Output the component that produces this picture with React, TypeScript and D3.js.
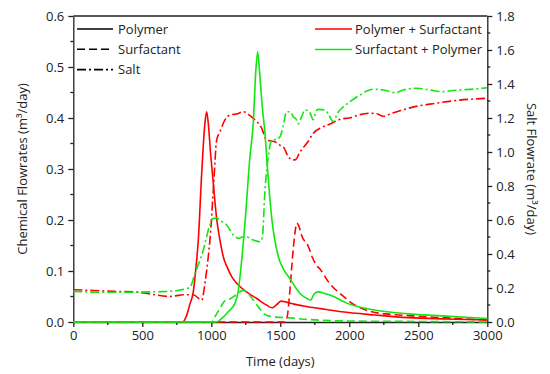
import { useEffect, useRef } from "react";
import * as d3 from "d3";

type Pt = [number, number];

// tick labels
const xTicks = [0, 500, 1000, 1500, 2000, 2500, 3000];
const leftTicks = [0, 0.1, 0.2, 0.3, 0.4, 0.5, 0.6];
const rightTicks = [0, 0.2, 0.4, 0.6, 0.8, 1.0, 1.2, 1.4, 1.6, 1.8];

// Polymer + Surfactant case (red)
const psPolymer: Pt[] = [
  [0, 0], [793, 0], [820, 0.012], [845, 0.035], [870, 0.06], [890, 0.11], [906, 0.161],
  [930, 0.29], [954, 0.39], [966, 0.412], [978, 0.39], [995, 0.33], [1015, 0.27],
  [1040, 0.2], [1063, 0.16], [1090, 0.125], [1111, 0.11], [1150, 0.088], [1184, 0.076],
  [1260, 0.058], [1329, 0.046], [1401, 0.033], [1440, 0.028], [1470, 0.033], [1505, 0.041],
  [1545, 0.039], [1600, 0.035], [1700, 0.03], [1820, 0.025], [1945, 0.02], [2186, 0.0137],
  [2425, 0.0085], [2700, 0.006], [3000, 0.004],
];
const psSurfactant: Pt[] = [
  [0, 0], [1535, 0], [1550, 0.01], [1566, 0.05], [1582, 0.105], [1600, 0.16], [1620, 0.194],
  [1635, 0.188], [1654, 0.17], [1703, 0.148], [1735, 0.125], [1760, 0.112], [1790, 0.103],
  [1848, 0.079], [1945, 0.053], [2041, 0.033], [2162, 0.02], [2300, 0.015], [2450, 0.012],
  [2700, 0.008], [3000, 0.004],
];
const psSalt: Pt[] = [
  [0, 0.19], [150, 0.185], [300, 0.18], [435, 0.178], [555, 0.165], [700, 0.15], [800, 0.16],
  [870, 0.16], [930, 0.128], [954, 0.227], [978, 0.384], [990, 0.48], [1015, 0.78],
  [1039, 1.07], [1063, 1.12], [1100, 1.19], [1135, 1.218], [1184, 1.224], [1232, 1.237],
  [1270, 1.22], [1304, 1.198], [1365, 1.14], [1401, 1.07], [1461, 1.06], [1498, 1.04],
  [1522, 1.03], [1558, 0.972], [1590, 0.953], [1610, 0.955], [1643, 1.0], [1700, 1.06],
  [1739, 1.11], [1800, 1.145], [1860, 1.165], [1945, 1.195], [2000, 1.2], [2077, 1.22],
  [2150, 1.228], [2200, 1.225], [2246, 1.21], [2300, 1.225], [2367, 1.243], [2476, 1.267],
  [2570, 1.28], [2670, 1.292], [2800, 1.305], [3000, 1.316],
];

// Surfactant + Polymer case (green)
const spPolymer: Pt[] = [
  [0, 0], [1035, 0], [1080, 0.008], [1123, 0.02], [1172, 0.037], [1195, 0.06], [1208, 0.089],
  [1244, 0.194], [1280, 0.324], [1304, 0.39], [1322, 0.49], [1336, 0.53], [1350, 0.49],
  [1370, 0.42], [1389, 0.37], [1401, 0.324], [1437, 0.206], [1486, 0.128], [1520, 0.105],
  [1570, 0.085], [1643, 0.056], [1700, 0.045], [1720, 0.043], [1745, 0.055], [1775, 0.059],
  [1820, 0.056], [1860, 0.053], [1981, 0.037], [2150, 0.025], [2343, 0.018], [2427, 0.016],
  [2669, 0.012], [3000, 0.007],
];
const spSurfactant: Pt[] = [
  [0, 0], [1000, 0], [1030, 0.012], [1063, 0.027], [1100, 0.042], [1135, 0.045], [1184, 0.054],
  [1230, 0.062], [1250, 0.06], [1280, 0.052], [1304, 0.043], [1340, 0.03], [1377, 0.017],
  [1449, 0.01], [1570, 0.008], [1700, 0.005], [2000, 0.002], [2500, 0.001], [3000, 0],
];
const spSalt: Pt[] = [
  [0, 0.18], [200, 0.175], [400, 0.175], [600, 0.178], [700, 0.18], [773, 0.188], [845, 0.205],
  [882, 0.286], [942, 0.424], [990, 0.571], [1015, 0.61], [1039, 0.61], [1070, 0.595],
  [1111, 0.571], [1160, 0.512], [1196, 0.492], [1225, 0.5], [1256, 0.502], [1280, 0.49],
  [1304, 0.482], [1353, 0.472], [1370, 0.5], [1389, 0.776], [1413, 0.972], [1437, 1.07],
  [1470, 1.075], [1498, 1.09], [1520, 1.15], [1546, 1.237], [1570, 1.237], [1594, 1.208],
  [1619, 1.188], [1631, 1.165], [1655, 1.21], [1679, 1.247], [1710, 1.237], [1739, 1.19],
  [1760, 1.24], [1775, 1.251], [1824, 1.247], [1850, 1.22], [1884, 1.178], [1915, 1.23],
  [1945, 1.257], [2005, 1.296], [2077, 1.335], [2130, 1.36], [2174, 1.369], [2250, 1.365],
  [2331, 1.349], [2391, 1.365], [2488, 1.375], [2550, 1.37], [2609, 1.361], [2681, 1.355],
  [2750, 1.362], [2802, 1.365], [2900, 1.37], [3000, 1.378],
];

const RED = "#ff0000";
const GREEN = "#11e611";
const DASH = "8,4";
const DASHDOT = "9,3,2,3";
const FONT = "'Open Sans', sans-serif";
const FS = "13px";

export default function App() {
  const ref = useRef<SVGSVGElement>(null);

  useEffect(() => {
    const width = 550;
    const height = 374;
    const margin = { top: 16, right: 62.7, bottom: 52, left: 73.3 };

    const svg = d3.select(ref.current);
    svg.selectAll("*").remove();
    svg.attr("width", width).attr("height", height);

    const x = d3.scaleLinear().domain([0, 3000]).range([margin.left, width - margin.right]);
    const yL = d3.scaleLinear().domain([0, 0.6]).range([height - margin.bottom, margin.top]);
    const yR = d3.scaleLinear().domain([0, 1.8]).range([height - margin.bottom, margin.top]);

    const axisColor = "#222";

    // frame top line
    svg.append("line")
      .attr("x1", x(0)).attr("x2", x(3000))
      .attr("y1", yL(0.6)).attr("y2", yL(0.6))
      .attr("stroke", axisColor).attr("stroke-width", 1.3);

    const styleAxis = (g: any) => {
      g.select(".domain").attr("stroke", axisColor).attr("stroke-width", 1.3);
      g.selectAll(".tick line").attr("stroke", axisColor).attr("stroke-width", 1.3);
      g.selectAll("text").attr("fill", "#222").style("font-family", FONT).style("font-size", FS);
    };

    // minor ticks
    const minor = (g: any, vals: number[], fn: (v: number) => [number, number, number, number]) => {
      g.selectAll(null).data(vals).join("line")
        .attr("x1", (d: number) => fn(d)[0]).attr("y1", (d: number) => fn(d)[1])
        .attr("x2", (d: number) => fn(d)[2]).attr("y2", (d: number) => fn(d)[3])
        .attr("stroke", axisColor).attr("stroke-width", 1.3);
    };
    const minorG = svg.append("g");
    minor(minorG, d3.range(250, 3000, 500), v => [x(v), yL(0), x(v), yL(0) + 3]);
    minor(minorG, d3.range(0.05, 0.6, 0.1), v => [x(0), yL(v), x(0) - 3, yL(v)]);
    minor(minorG, d3.range(0.1, 1.8, 0.2), v => [x(3000), yR(v), x(3000) + 3, yR(v)]);

    svg.append("g")
      .attr("transform", `translate(0,${height - margin.bottom})`)
      .call(d3.axisBottom(x).tickValues(xTicks).tickFormat(d3.format("d")).tickSize(5).tickPadding(4).tickSizeOuter(0))
      .call(styleAxis);

    svg.append("g")
      .attr("transform", `translate(${margin.left},0)`)
      .call(d3.axisLeft(yL).tickValues(leftTicks).tickFormat(d3.format(".1f")).tickSize(5).tickPadding(4).tickSizeOuter(0))
      .call(styleAxis);

    svg.append("g")
      .attr("transform", `translate(${width - margin.right},0)`)
      .call(d3.axisRight(yR).tickValues(rightTicks).tickFormat(d3.format(".1f")).tickSize(5).tickPadding(4).tickSizeOuter(0))
      .call(styleAxis);

    // series
    const series = [
      { data: psPolymer, color: RED, dash: null, y: yL },
      { data: psSurfactant, color: RED, dash: DASH, y: yL },
      { data: psSalt, color: RED, dash: DASHDOT, y: yR },
      { data: spPolymer, color: GREEN, dash: null, y: yL },
      { data: spSurfactant, color: GREEN, dash: DASH, y: yL },
      { data: spSalt, color: GREEN, dash: DASHDOT, y: yR },
    ];

    series.forEach(s => {
      const line = d3.line<Pt>()
        .x(d => x(d[0]))
        .y(d => s.y(d[1]))
        .curve(d3.curveMonotoneX);
      svg.append("path")
        .datum(s.data)
        .attr("d", line)
        .attr("fill", "none")
        .attr("stroke", s.color)
        .attr("stroke-width", 1.6)
        .attr("stroke-dasharray", s.dash)
        .attr("stroke-linejoin", "round");
    });

    // legend (left)
    const legLeft = [
      { label: "Polymer", dash: null },
      { label: "Surfactant", dash: DASH },
      { label: "Salt", dash: DASHDOT },
    ];
    legLeft.forEach((d, i) => {
      const yy = 29 + i * 20.3;
      svg.append("line")
        .attr("x1", 77).attr("x2", 113).attr("y1", yy).attr("y2", yy)
        .attr("stroke", "#000").attr("stroke-width", 1.6)
        .attr("stroke-dasharray", d.dash);
      svg.append("text")
        .attr("x", 118).attr("y", yy).attr("dy", "0.35em")
        .style("font-family", FONT).style("font-size", FS).attr("fill", "#222")
        .text(d.label);
    });

    // legend (right)
    const legRight = [
      { label: "Polymer + Surfactant", color: RED },
      { label: "Surfactant + Polymer", color: GREEN },
    ];
    legRight.forEach((d, i) => {
      const yy = 29 + i * 20.5;
      svg.append("line")
        .attr("x1", 315).attr("x2", 352).attr("y1", yy).attr("y2", yy)
        .attr("stroke", d.color).attr("stroke-width", 1.6);
      svg.append("text")
        .attr("x", 355).attr("y", yy).attr("dy", "0.35em")
        .style("font-family", FONT).style("font-size", FS).attr("fill", "#222")
        .text(d.label);
    });

    // axis titles
    const midY = (margin.top + height - margin.bottom) / 2;
    svg.append("text")
      .attr("transform", `translate(22,${midY}) rotate(-90)`)
      .attr("text-anchor", "middle").attr("dy", "0.35em")
      .style("font-family", FONT).style("font-size", FS).attr("fill", "#222")
      .text("Chemical Flowrates (m³/day)");
    svg.append("text")
      .attr("transform", `translate(532,${midY}) rotate(90)`)
      .attr("text-anchor", "middle").attr("dy", "0.35em")
      .style("font-family", FONT).style("font-size", FS).attr("fill", "#222")
      .text("Salt Flowrate (m³/day)");
    svg.append("text")
      .attr("x", (margin.left + width - margin.right) / 2).attr("y", 361).attr("dy", "0.35em")
      .attr("text-anchor", "middle")
      .style("font-family", FONT).style("font-size", FS).attr("fill", "#222")
      .text("Time (days)");
  }, []);

  return (
    <svg ref={ref} style={{ position: "absolute", left: 0, top: 0, background: "#fff" }}></svg>
  );
}
